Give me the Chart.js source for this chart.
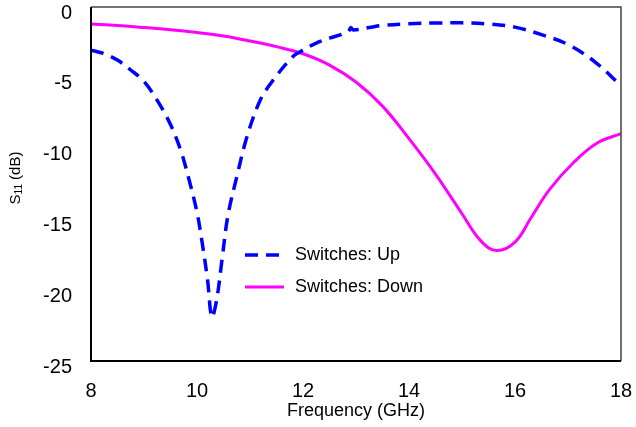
<!DOCTYPE html>
<html lang="en">
<head>
  <meta charset="UTF-8">
  <title>S11 vs Frequency</title>
  <script src="https://cdn.jsdelivr.net/npm/chart.js"></script>
  <style>
    body { margin: 0; background: #fff; }
  </style>
</head>
<body>
  <div style="width: 636px; height: 427px;">
    <canvas id="s11Chart"></canvas>
  </div>

  <script>
    const FONT = "'Liberation Sans', Arial, sans-serif";

    // Switches: Up (dB)
    const upFreq = [8.0, 8.25, 8.5, 8.75, 9.0, 9.25, 9.5, 9.7, 9.85, 10.0, 10.1, 10.2, 10.28, 10.37, 10.47, 10.58, 10.75, 10.94, 11.19, 11.43, 11.81, 12.0, 12.25, 12.5, 12.85, 12.9, 12.95, 13.25, 13.5, 14.0, 14.5, 15.0, 15.5, 16.0, 16.5, 17.0, 17.5, 18.0];
    const upS11 = [-3.05, -3.3, -3.75, -4.45, -5.25, -6.6, -8.3, -10.2, -12.2, -14.5, -16.7, -19.3, -21.9, -20.7, -17.9, -14.8, -12.0, -9.2, -6.6, -5.2, -3.5, -3.05, -2.55, -2.2, -1.75, -1.45, -1.62, -1.45, -1.3, -1.18, -1.13, -1.12, -1.2, -1.42, -1.95, -2.65, -3.85, -5.55];

    // Switches: Down (dB)
    const downFreq = [8.0, 8.5, 9.0, 9.5, 10.0, 10.5, 11.0, 11.5, 12.0, 12.5, 13.0, 13.5, 14.0, 14.5, 15.0, 15.35, 15.65, 16.0, 16.3, 16.65, 17.1, 17.55, 18.0];
    const downS11 = [-1.2, -1.3, -1.45, -1.6, -1.8, -2.05, -2.4, -2.8, -3.3, -4.1, -5.3, -7.0, -9.3, -11.8, -14.6, -16.5, -17.2, -16.6, -14.9, -12.9, -11.0, -9.6, -8.95];

    const xTicks = [8, 10, 12, 14, 16, 18];
    const yTicks = [0, -5, -10, -15, -20, -25];

    const toPoints = (xs, ys) => xs.map((x, i) => ({ x: x, y: ys[i] }));

    // frame around the plot, y-axis title with subscript, and the inset legend
    const decorations = {
      id: 'decorations',
      afterDraw(chart) {
        const ctx = chart.ctx;
        const a = chart.chartArea;
        ctx.save();

        ctx.strokeStyle = '#444';
        ctx.lineWidth = 1.5;
        ctx.beginPath();
        ctx.moveTo(a.left, a.top);
        ctx.lineTo(a.right, a.top);
        ctx.lineTo(a.right, a.bottom);
        ctx.stroke();
        ctx.strokeStyle = '#000';
        ctx.lineWidth = 2;
        ctx.beginPath();
        ctx.moveTo(a.left, a.top);
        ctx.lineTo(a.left, a.bottom);
        ctx.lineTo(a.right, a.bottom);
        ctx.stroke();

        // S11 (dB)
        ctx.translate(16, 178);
        ctx.rotate(-Math.PI / 2);
        ctx.fillStyle = '#000';
        ctx.textBaseline = 'middle';
        ctx.textAlign = 'left';
        const big = '15px ' + FONT, small = '10px ' + FONT;
        ctx.font = big;
        const wS = ctx.measureText('S').width;
        const wRest = ctx.measureText(' (dB)').width;
        ctx.font = small;
        const wSub = ctx.measureText('11').width;
        let x = -(wS + wSub + wRest) / 2;
        ctx.font = big;
        ctx.fillText('S', x, 0);
        x += wS;
        ctx.font = small;
        ctx.fillText('11', x, 3);
        x += wSub;
        ctx.font = big;
        ctx.fillText(' (dB)', x, 0);
        ctx.setTransform(1, 0, 0, 1, 0, 0);

        // legend
        const rows = [255, 287];
        chart.data.datasets.forEach((ds, i) => {
          const y = rows[i];
          ctx.strokeStyle = ds.borderColor;
          ctx.lineWidth = ds.borderWidth;
          ctx.setLineDash(ds.borderDash || []);
          ctx.beginPath();
          ctx.moveTo(245, y);
          ctx.lineTo(284, y);
          ctx.stroke();
          ctx.setLineDash([]);
          ctx.fillStyle = '#000';
          ctx.font = '18px ' + FONT;
          ctx.textBaseline = 'middle';
          ctx.fillText(ds.label, 295, y);
        });
        ctx.restore();
      }
    };

    new Chart(document.getElementById('s11Chart'), {
      type: 'line',
      data: {
        datasets: [
          {
            label: 'Switches: Up',
            data: toPoints(upFreq, upS11),
            borderColor: '#0000ff',
            borderWidth: 3.5,
            borderDash: [13, 8],
            pointRadius: 0,
            tension: 0.35,
            fill: false
          },
          {
            label: 'Switches: Down',
            data: toPoints(downFreq, downS11),
            borderColor: '#ff00ff',
            borderWidth: 3,
            pointRadius: 0,
            tension: 0.4,
            fill: false
          }
        ]
      },
      options: {
        responsive: true,
        maintainAspectRatio: false,
        animation: false,
        layout: { padding: { top: 7, right: 15, left: 0, bottom: 0 } },
        plugins: {
          legend: { display: false },
          tooltip: { enabled: false }
        },
        scales: {
          x: {
            type: 'linear',
            min: 8,
            max: 18,
            afterBuildTicks: s => { s.ticks = xTicks.map(v => ({ value: v })); },
            afterFit: s => { s.height = 66; s.paddingLeft = 0; s.paddingRight = 0; },
            grid: { display: false, drawTicks: false },
            border: { display: false },
            ticks: {
              autoSkip: false,
              maxRotation: 0,
              padding: 18,
              color: '#000',
              font: { family: FONT, size: 20 }
            },
            title: {
              display: true,
              text: 'Frequency (GHz)',
              color: '#000',
              font: { family: FONT, size: 18 },
              padding: { top: 0, bottom: 5 }
            }
          },
          y: {
            type: 'linear',
            min: -25,
            max: 0,
            afterBuildTicks: s => { s.ticks = yTicks.map(v => ({ value: v })); },
            afterFit: s => { s.width = 91; s.paddingTop = 0; s.paddingBottom = 0; },
            grid: { display: false, drawTicks: false },
            border: { display: false },
            ticks: {
              padding: 19,
              labelOffset: 6,
              color: '#000',
              font: { family: FONT, size: 20 }
            }
          }
        }
      },
      plugins: [decorations]
    });
  </script>
</body>
</html>
